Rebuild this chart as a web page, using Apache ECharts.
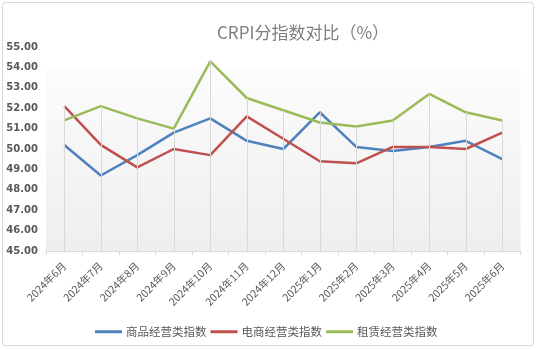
<!DOCTYPE html>
<html><head><meta charset="utf-8">
<script src="https://cdn.jsdelivr.net/npm/echarts@6/dist/echarts.min.js"></script>
<style>html,body{margin:0;padding:0;background:#fff;}#c{width:537px;height:349px;}</style>
</head><body><div id="c"></div>
<script>
var categories = ['2024年6月','2024年7月','2024年8月','2024年9月','2024年10月','2024年11月','2024年12月','2025年1月','2025年2月','2025年3月','2025年4月','2025年5月','2025年6月'];
var goodsIndex = [50.2,48.7,49.7,50.8,51.5,50.4,50.0,51.8,50.1,49.9,50.1,50.4,49.5];
var ecomIndex  = [52.1,50.2,49.1,50.0,49.7,51.6,50.5,49.4,49.3,50.1,50.1,50.0,50.8];
var leaseIndex = [51.4,52.1,51.5,51.0,54.3,52.5,51.9,51.3,51.1,51.4,52.7,51.8,51.4];
var seriesNames = ['商品经营类指数','电商经营类指数','租赁经营类指数'];
var yMin = 45, yMax = 55, yInterval = 1;

var font = '"Noto Sans CJK SC","Microsoft YaHei",sans-serif';
var dropData = categories.map(function(c,i){
  var m = Math.max(goodsIndex[i], ecomIndex[i], leaseIndex[i]);
  return [{coord:[c, m]},{coord:[c, yMin]}];
});
var chart = echarts.init(document.getElementById('c'), null, {renderer:'canvas'});
chart.setOption({
  animation:false,
  backgroundColor:'#ffffff',
  title:{text:'CRPI分指数对比（%）', left:212, top:19,
    textStyle:{fontFamily:font, fontSize:17, fontWeight:'normal', color:'#7f7f7f'}},
  graphic:[{type:'rect', shape:{x:2.5,y:2.5,width:531,height:343,r:3}, style:{fill:'none',stroke:'#d9d9d9',lineWidth:1}, silent:true, z:-1}],
  grid:{left:46, right:16.5, top:47, bottom:98, show:true, borderWidth:0,
    backgroundColor:{type:'linear',x:0,y:0,x2:0,y2:1,colorStops:[
      {offset:0,color:'#ffffff'},{offset:0.11,color:'#ffffff'},{offset:0.115,color:'#fcfcfc'},{offset:1,color:'#eeeeee'}]}},
  legend:{data:seriesNames, left:90, top:321, icon:'rect', itemWidth:27, itemHeight:3, itemGap:4,
    textStyle:{fontFamily:font, fontSize:11.5, color:'#595959', padding:[0,0,0,-1]}},
  xAxis:{type:'category', data:categories, boundaryGap:true,
    axisLine:{lineStyle:{color:'#d9d9d9'}},
    axisTick:{show:true, length:4, lineStyle:{color:'#d9d9d9'}},
    axisLabel:{rotate:45, fontFamily:font, fontSize:10.5, color:'#595959', margin:13, interval:0},
    splitLine:{show:false}},
  yAxis:{type:'value', min:yMin, max:yMax, interval:yInterval,
    axisLine:{show:false}, axisTick:{show:false}, splitLine:{show:false},
    axisLabel:{formatter:function(v){return v.toFixed(2);}, fontFamily:'"DejaVu Sans",sans-serif', fontSize:10, fontWeight:'bold', color:'#595959', margin:8}},
  series:[
    {name:'drop', type:'line', data:categories.map(function(){return null;}), z:1, silent:true,
     markLine:{silent:true, symbol:['none','none'], label:{show:false}, lineStyle:{color:'#d9d9d9', width:1, type:'solid'}, data:dropData}},
    {name:seriesNames[0], type:'line', data:goodsIndex, symbol:'none', z:3, lineStyle:{width:2.5, color:'#4f81bd'}, itemStyle:{color:'#4f81bd'}},
    {name:seriesNames[1], type:'line', data:ecomIndex, symbol:'none', z:3, lineStyle:{width:2.5, color:'#c0504d'}, itemStyle:{color:'#c0504d'}},
    {name:seriesNames[2], type:'line', data:leaseIndex, symbol:'none', z:3, lineStyle:{width:2.5, color:'#9bbb59'}, itemStyle:{color:'#9bbb59'}}
  ]
});
</script></body></html>
